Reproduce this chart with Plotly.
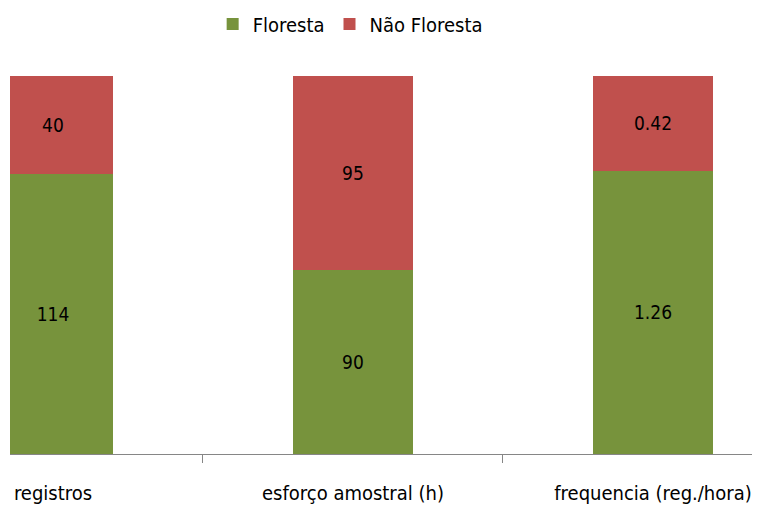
import plotly.graph_objects as go

categories = ["registros", "esforço amostral (h)", "frequencia (reg./hora)"]
floresta = [114, 90, 1.26]
nao_floresta = [40, 95, 0.42]
floresta_labels = ["114", "90", "1.26"]
nao_floresta_labels = ["40", "95", "0.42"]

FONT = "Liberation Sans Narrow, DejaVu Sans Condensed, Open Sans, sans-serif"

fig = go.Figure()
fig.add_trace(go.Bar(
    x=categories, y=floresta, name="Floresta",
    marker=dict(color="#77933C", line=dict(width=0)),
    text=floresta_labels, textposition="inside", insidetextanchor="middle",
    textfont=dict(color="#000000", size=19, family=FONT),
    width=0.4,
))
fig.add_trace(go.Bar(
    x=categories, y=nao_floresta, name="Não Floresta",
    marker=dict(color="#C0504D", line=dict(width=0)),
    text=nao_floresta_labels, textposition="inside", insidetextanchor="middle",
    textfont=dict(color="#000000", size=19, family=FONT),
    width=0.4,
))

fig.update_layout(
    width=752, height=498,
    barmode="stack", barnorm="percent",
    paper_bgcolor="white", plot_bgcolor="white",
    margin=dict(l=2, r=0, t=68, b=52, autoexpand=False),
    font=dict(family=FONT, size=20, color="#000000"),
    legend=dict(
        orientation="h", xref="container", yref="container",
        x=0.455, xanchor="center", y=0.968, yanchor="middle",
        font=dict(size=20, family=FONT),
        traceorder="normal",
    ),
    xaxis=dict(
        type="category", range=[-0.1433, 2.3567], automargin=False,
        showline=True, linecolor="#868686", linewidth=1,
        ticks="outside", tickson="boundaries", ticklen=8, tickcolor="#868686",
        tickfont=dict(size=20, family=FONT, color="#000000"),
        ticklabelstandoff=21,
        showgrid=False, zeroline=False,
    ),
    yaxis=dict(
        visible=False, range=[0, 100], showgrid=False, zeroline=False,
        automargin=False,
    ),
)

fig.write_html("out.html")
